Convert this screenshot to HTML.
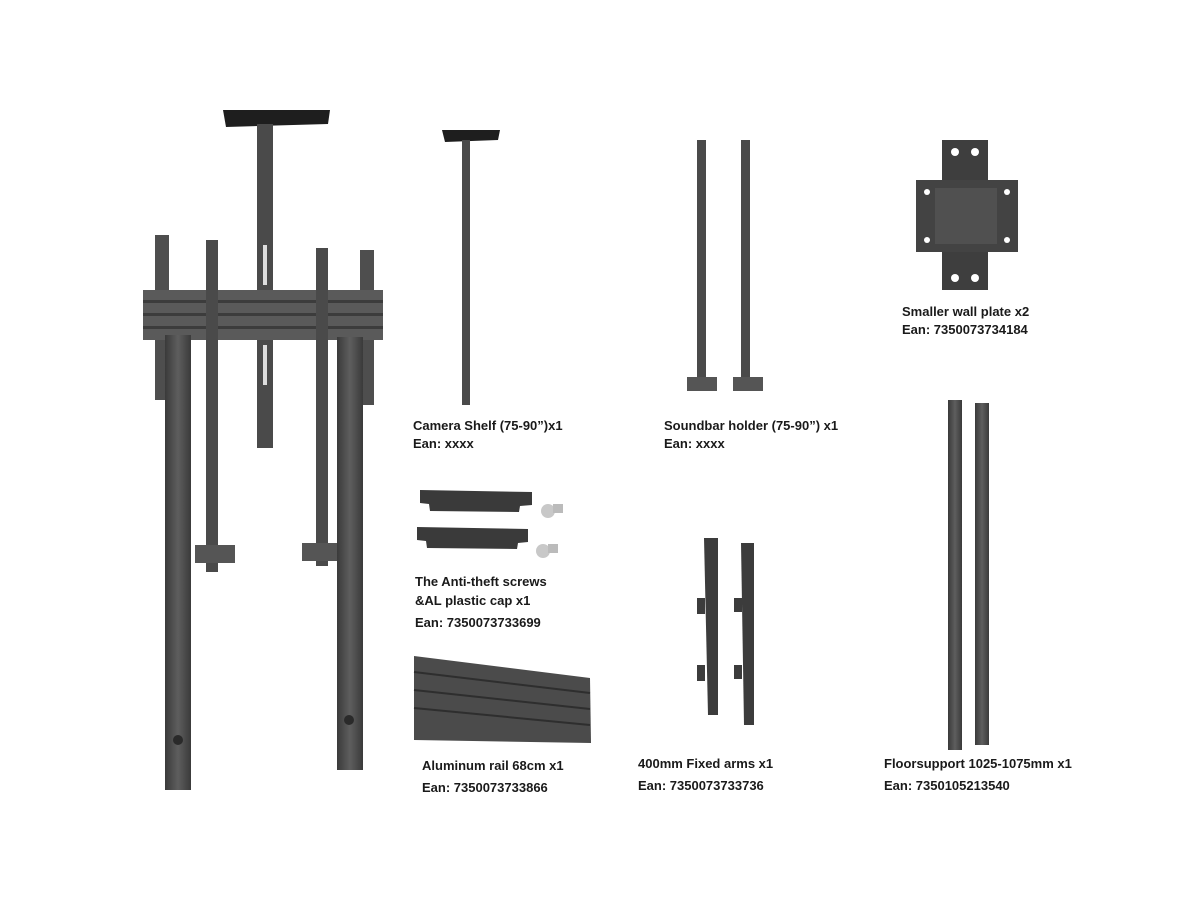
<!DOCTYPE html>
<html><head><meta charset="utf-8"><style>
html,body{margin:0;padding:0;background:#fff;}
svg{display:block}
text{font-family:"Liberation Sans",sans-serif;font-weight:bold;font-size:13px;fill:#1a1a1a}
</style></head><body>
<svg width="1200" height="900" viewBox="0 0 1200 900">
<defs>
<linearGradient id="g" x1="0" x2="1"><stop offset="0" stop-color="#3a3a3a"/><stop offset="0.5" stop-color="#5e5e5e"/><stop offset="1" stop-color="#3a3a3a"/></linearGradient>
</defs>
<!-- Main assembly -->
<polygon points="223,110 330,110 328,124 226,127" fill="#1e1e1e"/>
<rect x="257" y="124" width="16" height="324" fill="#4a4a4a"/>
<rect x="263" y="245" width="4" height="40" fill="#ddd"/><rect x="263" y="345" width="4" height="40" fill="#ddd"/>
<rect x="155" y="235" width="14" height="165" fill="#4e4e4e"/>
<rect x="360" y="250" width="14" height="155" fill="#4e4e4e"/>
<rect x="143" y="290" width="240" height="50" fill="#5a5a5a"/>
<rect x="143" y="300" width="240" height="3" fill="#3c3c3c"/><rect x="143" y="313" width="240" height="3" fill="#3c3c3c"/><rect x="143" y="326" width="240" height="3" fill="#3c3c3c"/>
<rect x="206" y="240" width="12" height="332" fill="#4a4a4a"/>
<rect x="316" y="248" width="12" height="318" fill="#4a4a4a"/>
<rect x="195" y="545" width="40" height="18" fill="#555"/>
<rect x="302" y="543" width="38" height="18" fill="#555"/>
<rect x="165" y="335" width="26" height="455" fill="url(#g)"/>
<rect x="337" y="337" width="26" height="433" fill="url(#g)"/>
<circle cx="178" cy="740" r="5" fill="#2a2a2a"/><circle cx="349" cy="720" r="5" fill="#2a2a2a"/>
<!-- Camera shelf -->
<polygon points="442,130 500,130 498,140 445,142" fill="#1e1e1e"/>
<rect x="462" y="140" width="8" height="265" fill="#4a4a4a"/>
<!-- Soundbar -->
<rect x="697" y="140" width="9" height="250" fill="#4a4a4a"/>
<rect x="741" y="140" width="9" height="250" fill="#4a4a4a"/>
<rect x="687" y="377" width="30" height="14" fill="#555"/>
<rect x="733" y="377" width="30" height="14" fill="#555"/>
<!-- Wall plate -->
<rect x="942" y="140" width="46" height="150" fill="#3e3e3e"/>
<rect x="916" y="180" width="102" height="72" fill="#434343"/>
<rect x="935" y="188" width="62" height="56" fill="#505050"/>
<circle cx="955" cy="152" r="4" fill="#fff"/><circle cx="975" cy="152" r="4" fill="#fff"/>
<circle cx="955" cy="278" r="4" fill="#fff"/><circle cx="975" cy="278" r="4" fill="#fff"/>
<circle cx="927" cy="192" r="3" fill="#fff"/><circle cx="1007" cy="192" r="3" fill="#fff"/>
<circle cx="927" cy="240" r="3" fill="#fff"/><circle cx="1007" cy="240" r="3" fill="#fff"/>
<!-- caps -->
<polygon points="420,490 532,492 532,505 520,506 519,512 430,511 429,504 420,503" fill="#3a3a3a"/>
<polygon points="417,527 528,529 528,542 518,543 517,549 427,548 426,541 417,540" fill="#3a3a3a"/>
<circle cx="548" cy="511" r="7" fill="#c8c8c8"/><rect x="553" y="504" width="10" height="9" fill="#bbb"/>
<circle cx="543" cy="551" r="7" fill="#c8c8c8"/><rect x="548" y="544" width="10" height="9" fill="#bbb"/>
<!-- aluminum rail -->
<polygon points="414,656 590,678 591,743 414,740" fill="#4b4b4b"/>
<line x1="414" y1="672" x2="590" y2="693" stroke="#2e2e2e" stroke-width="2"/>
<line x1="414" y1="690" x2="590" y2="709" stroke="#2e2e2e" stroke-width="2"/>
<line x1="414" y1="708" x2="590" y2="725" stroke="#2e2e2e" stroke-width="2"/>
<!-- fixed arms -->
<polygon points="704,538 718,538 718,715 708,715" fill="#3c3c3c"/>
<polygon points="741,543 754,543 754,725 744,725" fill="#3c3c3c"/>
<rect x="697" y="598" width="8" height="16" fill="#3c3c3c"/><rect x="697" y="665" width="8" height="16" fill="#3c3c3c"/>
<rect x="734" y="598" width="8" height="14" fill="#3c3c3c"/><rect x="734" y="665" width="8" height="14" fill="#3c3c3c"/>
<!-- floor support -->
<rect x="948" y="400" width="14" height="350" fill="url(#g)"/>
<rect x="975" y="403" width="14" height="342" fill="url(#g)"/>
<!-- labels -->
<text x="413" y="430">Camera Shelf (75-90”)x1</text>
<text x="413" y="448">Ean: xxxx</text>
<text x="664" y="430">Soundbar holder (75-90”) x1</text>
<text x="664" y="448">Ean: xxxx</text>
<text x="902" y="316">Smaller wall plate x2</text>
<text x="902" y="334">Ean:  7350073734184</text>
<text x="415" y="586">The Anti-theft screws</text>
<text x="415" y="605">&amp;AL plastic cap x1</text>
<text x="415" y="627">Ean:  7350073733699</text>
<text x="422" y="770">Aluminum rail 68cm x1</text>
<text x="422" y="792">Ean:  7350073733866</text>
<text x="638" y="768">400mm Fixed arms x1</text>
<text x="638" y="790">Ean: 7350073733736</text>
<text x="884" y="768">Floorsupport 1025-1075mm x1</text>
<text x="884" y="790">Ean: 7350105213540</text>
</svg>
</body></html>
